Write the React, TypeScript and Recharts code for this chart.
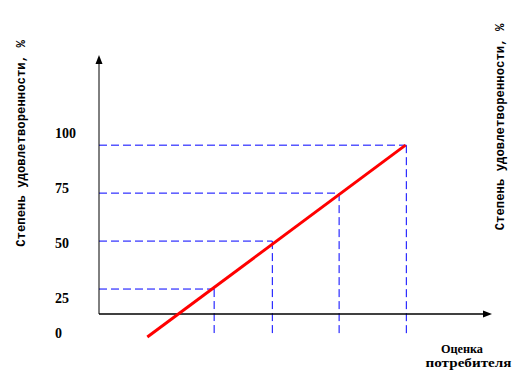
import {
  LineChart,
  Line,
  XAxis,
  YAxis,
  ReferenceLine,
  ReferenceDot
} from "recharts";

// satisfaction levels (y) and consumer scores (x) where the guide lines meet
const levels = [25, 50, 75, 100];
const scores = [29.3, 44.1, 61.1, 78.2];

// red line end points
const lineData = [
  { score: 12.3, level: 0 },
  { score: 78.0, level: 100 }
];

const yTicks = [0, 25, 50, 75, 100];

const axisLevel = 12;
const yMax = 147;
const xMax = 100;

const yTitle = "Степень удовлетворенности, %";
const xTitle = ["Оценка", "потребителя"];

const BLUE = "#0000ff";
const serif = "Liberation Serif, DejaVu Serif, serif";
const mono = "Liberation Mono, DejaVu Sans Mono, monospace";

const serifStyle = { fontFamily: serif, fontWeight: 700 };
const monoStyle = { fontFamily: mono, fontWeight: 700 };

function YTick(props: any) {
  const v = props.payload.value as number;
  // labels in the source sit a little off the guide lines
  const dy = v === 0 ? -3.5 : 2 - (v - 50) * 0.28;
  return (
    <text
      x={55}
      y={props.y + dy}
      textAnchor="start"
      dominantBaseline="central"
      style={{ ...serifStyle, fontSize: 14 }}
      fill="#000"
    >
      {v}
    </text>
  );
}

const ArrowUp = (p: any) => (
  <polygon
    points={`${p.cx},${p.cy} ${p.cx - 3.5},${p.cy + 9} ${p.cx + 3.5},${p.cy + 9}`}
    fill="#000"
  />
);

const ArrowRight = (p: any) => (
  <polygon
    points={`${p.cx},${p.cy} ${p.cx - 9},${p.cy - 3.5} ${p.cx - 9},${p.cy + 3.5}`}
    fill="#000"
  />
);

export default function App() {
  return (
    <div style={{ position: "absolute", left: 0, top: 0, width: 525, height: 385, background: "#fff" }}>
      <LineChart
        width={525}
        height={385}
        data={lineData}
        margin={{ top: 55, right: 33, bottom: 48, left: 49 }}
      >
        <XAxis dataKey="score" type="number" domain={[0, xMax]} hide />
        <YAxis
          type="number"
          domain={[0, yMax]}
          ticks={yTicks}
          width={50}
          axisLine={false}
          tickLine={false}
          tick={<YTick />}
        />

        {levels.map((lv, i) => (
          <ReferenceLine
            key={"h" + lv}
            segment={[
              { x: 0, y: lv },
              { x: scores[i], y: lv }
            ]}
            stroke={BLUE}
            strokeWidth={1}
            strokeDasharray="8 4"
          />
        ))}
        {levels.map((lv, i) => (
          <ReferenceLine
            key={"v" + lv}
            segment={[
              { x: scores[i], y: lv },
              { x: scores[i], y: 0 }
            ]}
            stroke={BLUE}
            strokeWidth={1}
            strokeDasharray="8 4"
          />
        ))}

        {/* axes with arrows */}
        <ReferenceLine
          segment={[
            { x: 0, y: axisLevel },
            { x: xMax - 1, y: axisLevel }
          ]}
          stroke="#000"
          strokeWidth={1.5}
        />
        <ReferenceLine
          segment={[
            { x: 0, y: axisLevel },
            { x: 0, y: yMax - 2 }
          ]}
          stroke="#000"
          strokeWidth={1}
        />
        <ReferenceDot x={0} y={yMax} ifOverflow="visible" shape={ArrowUp} />
        <ReferenceDot x={xMax} y={axisLevel} ifOverflow="visible" shape={ArrowRight} />

        <Line
          type="linear"
          dataKey="level"
          stroke="#ff0000"
          strokeWidth={3}
          dot={false}
          isAnimationActive={false}
        />
      </LineChart>

      <svg
        width={525}
        height={385}
        style={{ position: "absolute", left: 0, top: 0, pointerEvents: "none" }}
      >
        <text
          transform="translate(22,143.5) rotate(-90)"
          textAnchor="middle"
          dominantBaseline="central"
          style={{ ...monoStyle, fontSize: 12.3 }}
          fill="#000"
        >
          {yTitle}
        </text>
        <text
          transform="translate(501,127) rotate(-90)"
          textAnchor="middle"
          dominantBaseline="central"
          style={{ ...monoStyle, fontSize: 12.3 }}
          fill="#000"
        >
          {yTitle}
        </text>
        <text
          x={462}
          y={353}
          textAnchor="middle"
          textLength={42}
          lengthAdjust="spacingAndGlyphs"
          style={{ ...serifStyle, fontSize: 12.5 }}
          fill="#000"
        >
          {xTitle[0]}
        </text>
        <text
          x={468.5}
          y={367}
          textAnchor="middle"
          textLength={86}
          lengthAdjust="spacingAndGlyphs"
          style={{ ...serifStyle, fontSize: 12.5 }}
          fill="#000"
        >
          {xTitle[1]}
        </text>
      </svg>
    </div>
  );
}
